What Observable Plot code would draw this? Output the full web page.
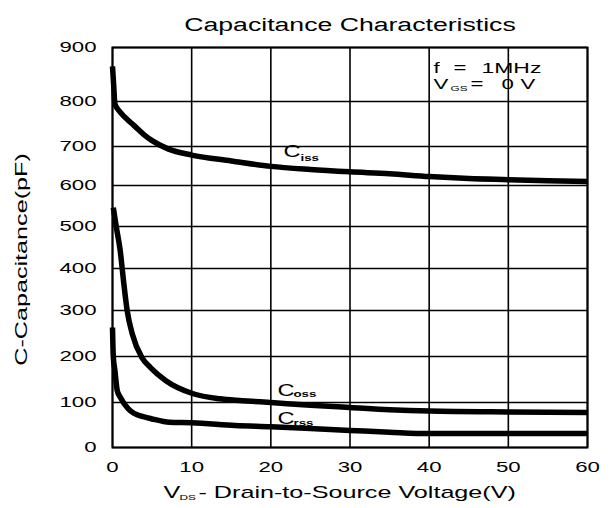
<!DOCTYPE html>
<html><head><meta charset="utf-8">
<script src="https://cdn.jsdelivr.net/npm/d3@7"></script>
<script src="https://cdn.jsdelivr.net/npm/@observablehq/plot@0.6"></script>
<style>body{margin:0;background:#fff} #chart svg{display:block}</style>
</head><body><div id="chart"></div>
<script>
// Drain-to-source voltage (V) and capacitance (pF)
const cissV = [0, 0.15, 0.3, 1, 2, 2.7, 4, 5, 7, 10, 15, 20, 25, 30, 35, 40, 45, 50, 55, 60];
const cissC = [865, 830, 795, 776, 758, 747, 726, 713, 694, 678, 663, 649, 641, 635, 630, 623, 618, 615, 612, 610];
const cossV = [0.1, 0.47, 0.97, 1.43, 1.85, 2.5, 3.7, 4.8, 6.7, 10.2, 13.5, 16.4, 20, 25, 30, 35, 40, 50, 60];
const cossC = [546, 500, 443, 364, 300, 249, 198, 176, 148, 119, 108, 104, 100, 94, 89, 84, 81, 79, 78];
const crssV = [0, 0.1, 0.3, 0.6, 1, 2, 2.7, 4, 4.9, 7.2, 10, 15.5, 20, 25, 30, 35, 40, 50, 60];
const crssC = [263, 200, 170, 126, 111, 86, 76, 68, 64, 56, 55, 49, 46, 42, 38, 34, 31, 31, 31];
const seriesNames = ["Ciss", "Coss", "Crss"];
const xTicks = [0, 10, 20, 30, 40, 50, 60];
const yTicks = [0, 100, 200, 300, 400, 500, 600, 700, 800, 900];

const seriesData = [[cissV, cissC], [cossV, cossC], [crssV, crssC]];
const rows = seriesData.flatMap(([V, C], k) => V.map((v, i) => ({series: seriesNames[k], v, c: C[i]})));

// The reference's value axis is slightly uneven (scanned datasheet): reproduce its
// gridline spacing with a piecewise display warp applied before Plot's linear y scale.
const frameTop = 47, frameBottom = 447;
const refGridPx = [447, 402, 356, 310, 268, 226, 185, 146, 101, 47];
const warp = d3.scaleLinear().domain(yTicks)
  .range(refGridPx.map(p => (frameBottom - p) / (frameBottom - frameTop) * 900));

const font = "'Liberation Sans', Arial, Helvetica, sans-serif";
const black = "#000";

const curveLabels = [
  {x: 21.6, y: 672, sx: 23.75, sy: 664, sub: "iss"},
  {x: 20.84, y: 115, sx: 22.86, sy: 113, sub: "oss"},
  {x: 20.84, y: 53, sx: 22.86, sy: 47, sub: "rss"}
];

const tr = (text, o) => Plot.text([text], {textAnchor: "start", lineAnchor: "bottom", fill: black, ...o});

const plot = Plot.plot({
  width: 616,
  height: 508,
  marginLeft: 112,
  marginRight: 29,
  marginTop: frameTop,
  marginBottom: 508 - frameBottom,
  style: {fontFamily: font, fontSize: "15px", background: "#fff", color: black, overflow: "visible"},
  x: {domain: [0, 60]},
  y: {domain: [0, 900], axis: null},
  marks: [
    Plot.gridX(xTicks, {stroke: black, strokeOpacity: 1, strokeWidth: 1.6}),
    Plot.ruleY(yTicks, {y: d => warp(d), stroke: black, strokeWidth: 1.6}),
    Plot.frame({stroke: black, strokeWidth: 2}),
    Plot.line(rows, {x: "v", y: d => warp(d.c), z: "series", stroke: black, strokeWidth: 5.5, curve: "monotone-x", strokeLinecap: "butt"}),
    Plot.axisX(xTicks, {tickSize: 0, tickPadding: 14, fontSize: 15, label: null, fill: black}),
    Plot.text(yTicks, {y: d => warp(d), text: d => String(d), frameAnchor: "left", dx: -16, textAnchor: "end", lineAnchor: "middle", fontSize: 15, fill: black}),
    // curve labels
    Plot.text(curveLabels, {x: "x", y: d => warp(d.y), text: () => "C", textAnchor: "start", lineAnchor: "bottom", fontSize: 16, fill: black}),
    Plot.text(curveLabels, {x: "sx", y: d => warp(d.sy), text: "sub", textAnchor: "start", lineAnchor: "bottom", fontSize: 9, fontWeight: "bold", fill: black}),
    // title
    Plot.text(["Capacitance Characteristics"], {frameAnchor: "top", dy: -17, lineAnchor: "bottom", fontSize: 18, fill: black}),
    // condition box
    tr("f", {frameAnchor: "top-right", dx: -154, dy: 25, fontSize: 15}),
    tr("=", {frameAnchor: "top-right", dx: -134, dy: 25, fontSize: 15}),
    tr("1MHz", {frameAnchor: "top-right", dx: -106, dy: 25, fontSize: 15.5}),
    tr("V", {frameAnchor: "top-right", dx: -154, dy: 41, fontSize: 15}),
    tr("GS", {frameAnchor: "top-right", dx: -137, dy: 43, fontSize: 8}),
    tr("=", {frameAnchor: "top-right", dx: -117, dy: 41, fontSize: 15}),
    tr("0", {frameAnchor: "top-right", dx: -86, dy: 41, fontSize: 15}),
    tr("V", {frameAnchor: "top-right", dx: -67, dy: 41, fontSize: 15}),
    // x axis label
    tr("V", {frameAnchor: "bottom-left", dx: 51, dy: 50, fontSize: 17}),
    tr("DS", {frameAnchor: "bottom-left", dx: 67, dy: 52, fontSize: 8}),
    tr("- Drain-to-Source Voltage(V)", {frameAnchor: "bottom-left", dx: 86, dy: 50, fontSize: 17}),
    // y axis label
    Plot.text(["C-Capacitance(pF)"], {frameAnchor: "left", dx: -91, dy: 12, rotate: -90, textAnchor: "middle", lineAnchor: "middle", fontSize: 17, fill: black})
  ]
});

document.getElementById("chart").appendChild(plot);

// the reference uses an extended (wide) typeface: stretch text along its own direction
const stretch = 1.48;
plot.querySelectorAll("text").forEach(t => {
  const tf = t.getAttribute("transform");
  if (tf) t.setAttribute("transform", tf + ` scale(${stretch},1)`);
  else {
    const x = +t.getAttribute("x") || 0, y = +t.getAttribute("y") || 0;
    t.setAttribute("transform", `translate(${x},${y}) scale(${stretch},1) translate(${-x},${-y})`);
  }
});
</script>
</body></html>
